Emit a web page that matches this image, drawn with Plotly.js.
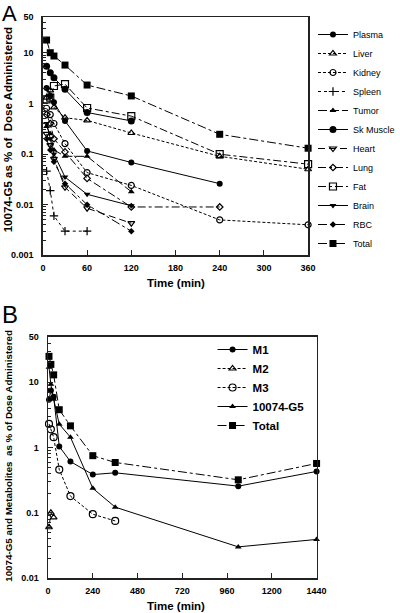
<!DOCTYPE html>
<html>
<head>
<meta charset="utf-8">
<script src="https://cdn.plot.ly/plotly-3.0.1.min.js"></script>
<style>
html,body{margin:0;padding:0;background:#fff;}
#chart{width:400px;height:613px;}
</style>
</head>
<body>
<div id="chart"></div>
<script>
// ---------- Panel A data (time in min, % of dose) ----------
const timeA = [5, 10, 15, 30, 60, 120, 240, 360];
const plasmaA   = [2.0, 1.4, 1.05, 0.45, 0.115, 0.068, 0.026, null];
const liverA    = [1.3, 1.8, 0.83, 0.52, 0.46, 0.26, 0.09, 0.05];
const kidneyA   = [0.8, 0.6, 0.4, 0.16, 0.043, 0.024, 0.005, 0.004];
const spleenA   = [0.046, 0.019, 0.006, 0.003, 0.003, null, null, null];
const tumorA    = [0.35, 0.25, 0.12, 0.09, 0.09, 0.018, null, null];
const skMuscleA = [5.4, 4.0, 3.2, 1.9, 0.66, 0.45, null, null];
const heartA    = [0.25, 0.15, 0.08, 0.022, 0.0085, 0.0043, null, null];
const lungA     = [0.6, 0.4, 0.2, 0.11, 0.033, 0.009, 0.009, null];
const fatA      = [1.2, 1.3, 2.2, 2.4, 0.81, 0.56, 0.099, 0.063];
const brainA    = [0.4, 0.2, 0.1, 0.035, 0.016, 0.0095, null, null];
const rbcA      = [0.2, 0.12, 0.07, 0.026, 0.01, 0.003, null, null];
const totalA    = [17.8, 10, 8.6, 5.7, 2.3, 1.4, 0.245, 0.13];
const xTicksA = [0, 60, 120, 180, 240, 300, 360];
const yTicksA = [0.001, 0.01, 0.1, 1, 10, 50];
const yTickTextA = ["0.001", "0.01", "0.1", "1", "10", "50"];

// ---------- Panel B data ----------
const timeB = [5, 15, 30, 60, 120, 240, 360, 1020, 1440];
const m1B    = [5.4, 7.5, 6.0, 1.04, 0.61, 0.385, 0.41, 0.256, 0.43];
const m2B    = [0.06, 0.1, 0.085, null, null, null, null, null, null];
const m3B    = [2.3, 1.9, 1.44, 0.46, 0.18, 0.095, 0.075, null, null];
const g5B    = [17, 9.3, 5.5, 2.28, 1.44, 0.237, 0.122, 0.030, 0.039];
const totalB = [25, 18.8, 13, 3.8, 2.15, 0.75, 0.59, 0.32, 0.57];
const xTicksB = [0, 240, 480, 720, 960, 1200, 1440];
const yTicksB = [0.01, 0.1, 1, 10, 50];
const yTickTextB = ["0.01", "0.1", "1", "10", "50"];

const FONT = "Arial, 'Liberation Sans', sans-serif";
const W = 400, H = 613;
const px = v => v / W;
const py = v => 1 - v / H;

function minorVals(lo, hi) {
  const out = [];
  for (let e = lo; e < hi; e++) for (let k = 2; k <= 9; k++) out.push(k * Math.pow(10, e));
  return out;
}

function tr(x, y, name, sym, size, dash, xa, ya, legend) {
  const open = sym.indexOf('open') >= 0 || sym.indexOf('thin') >= 0;
  return {
    x: x, y: y, name: name, type: 'scatter', mode: 'lines+markers',
    xaxis: xa, yaxis: ya, legend: legend,
    line: {color: '#000', width: 1, dash: dash},
    marker: {symbol: sym, size: size, color: '#000',
             line: {color: '#000', width: open ? 1.2 : 0}},
    cliponaxis: false
  };
}

const data = [
  tr(timeA, plasmaA,   'Plasma',    'circle',            6, 'solid', 'x', 'y', 'legend'),
  tr(timeA, liverA,    'Liver',     'triangle-up-open',  6, '3px,2px', 'x', 'y', 'legend'),
  tr(timeA, kidneyA,   'Kidney',    'circle-open',       6, '3px,2px', 'x', 'y', 'legend'),
  tr(timeA, spleenA,   'Spleen',    'cross-thin-open',   6, 'dot', 'x', 'y', 'legend'),
  tr(timeA, tumorA,    'Tumor',     'triangle-up',       6, '9px,3px', 'x', 'y', 'legend'),
  tr(timeA, skMuscleA, 'Sk Muscle', 'circle',            7, 'solid', 'x', 'y', 'legend'),
  tr(timeA, heartA,    'Heart',     'triangle-down-open',6, '7px,4px', 'x', 'y', 'legend'),
  tr(timeA, lungA,     'Lung',      'diamond-open',      5, '8px,3px,3px,3px', 'x', 'y', 'legend'),
  tr(timeA, fatA,      'Fat',       'square-open',       7, '8px,3px,3px,3px', 'x', 'y', 'legend'),
  tr(timeA, brainA,    'Brain',     'triangle-down',     6, 'solid', 'x', 'y', 'legend'),
  tr(timeA, rbcA,      'RBC',       'diamond',           5, 'dashdot', 'x', 'y', 'legend'),
  tr(timeA, totalA,    'Total',     'square',            7, 'dashdot', 'x', 'y', 'legend'),

  tr(timeB, m1B,    'M1',       'circle',           6, 'solid', 'x2', 'y2', 'legend2'),
  tr(timeB, m2B,    'M2',       'triangle-up-open', 6, '3px,2px', 'x2', 'y2', 'legend2'),
  tr(timeB, m3B,    'M3',       'circle-open',      7, '3px,2px', 'x2', 'y2', 'legend2'),
  tr(timeB, g5B,    '10074-G5', 'triangle-up',      6, 'solid', 'x2', 'y2', 'legend2'),
  tr(timeB, totalB, 'Total',    'square',           7, 'dashdot', 'x2', 'y2', 'legend2')
];

const axBase = {
  showline: true, linecolor: '#222', linewidth: 1.5, mirror: true,
  showgrid: false, zeroline: false, ticks: 'inside', ticklen: 5,
  tickcolor: '#222', tickwidth: 1,
  tickfont: {family: FONT, size: 9, color: '#000', weight: 'bold'}
};

const layout = {
  width: W, height: H,
  margin: {l: 0, r: 0, t: 0, b: 0},
  paper_bgcolor: '#fff', plot_bgcolor: '#fff',
  font: {family: FONT, color: '#000'},
  xaxis: Object.assign({}, axBase, {
    domain: [px(44), px(316)], anchor: 'y', range: [0, 360],
    tickmode: 'array', tickvals: xTicksA, ticklabelstandoff: 3
  }),
  yaxis: Object.assign({}, axBase, {
    domain: [py(255.3), py(17.3)], anchor: 'x', type: 'log',
    range: [-3, Math.log10(50)], tickmode: 'array',
    tickvals: yTicksA, ticktext: yTickTextA, ticklabelstandoff: 6,
    minor: {tickmode: 'array', tickvals: minorVals(-3, 2).filter(v => v < 50),
            ticks: 'inside', ticklen: 3, tickcolor: '#222', showgrid: false}
  }),
  xaxis2: Object.assign({}, axBase, {
    domain: [px(49.3), px(324.7)], anchor: 'y2', range: [0, 1440],
    tickmode: 'array', tickvals: xTicksB, ticklabelstandoff: 4
  }),
  yaxis2: Object.assign({}, axBase, {
    domain: [py(578), py(336.7)], anchor: 'x2', type: 'log',
    range: [-2, Math.log10(50)], tickmode: 'array',
    tickvals: yTicksB, ticktext: yTickTextB, ticklabelstandoff: 6,
    minor: {tickmode: 'array', tickvals: minorVals(-2, 2).filter(v => v < 50),
            ticks: 'inside', ticklen: 3, tickcolor: '#222', showgrid: false}
  }),
  legend: {
    x: px(321), y: py(20), xanchor: 'left', yanchor: 'top',
    bgcolor: 'rgba(0,0,0,0)', borderwidth: 0,
    font: {family: FONT, size: 9, color: '#000'}
  },
  legend2: {
    x: px(218), y: py(335), xanchor: 'left', yanchor: 'top',
    bgcolor: 'rgba(0,0,0,0)', borderwidth: 0,
    font: {family: FONT, size: 11.5, color: '#000', weight: 'bold'}
  },
  annotations: [
    {text: 'A', x: px(10), y: py(13), xref: 'paper', yref: 'paper', showarrow: false,
     xanchor: 'center', yanchor: 'middle', font: {family: FONT, size: 22, color: '#000'}},
    {text: 'B', x: px(10), y: py(314), xref: 'paper', yref: 'paper', showarrow: false,
     xanchor: 'center', yanchor: 'middle', font: {family: FONT, size: 24, color: '#000'}},
    {text: 'Time (min)', x: px(180), y: py(283), xref: 'paper', yref: 'paper', showarrow: false,
     xanchor: 'center', yanchor: 'middle', font: {family: FONT, size: 11.5, color: '#000', weight: 'bold'}},
    {text: '10074-G5 as % of  Dose Administered', x: px(8.5), y: py(130), xref: 'paper', yref: 'paper',
     showarrow: false, textangle: -90, xanchor: 'center', yanchor: 'middle',
     font: {family: FONT, size: 11.5, color: '#000', weight: 'bold'}},
    {text: 'Time (min)', x: px(181), y: py(605.5), xref: 'paper', yref: 'paper', showarrow: false,
     xanchor: 'center', yanchor: 'middle', font: {family: FONT, size: 11.5, color: '#000', weight: 'bold'}},
    {text: '10074-G5 and Metabolites  as % of Dose Administered', x: px(8), y: py(456), xref: 'paper', yref: 'paper',
     showarrow: false, textangle: -90, xanchor: 'center', yanchor: 'middle',
     font: {family: FONT, size: 9.8, color: '#000', weight: 'bold'}}
  ],
  showlegend: true
};

Plotly.newPlot('chart', data, layout, {staticPlot: true, displayModeBar: false});
</script>
</body>
</html>
